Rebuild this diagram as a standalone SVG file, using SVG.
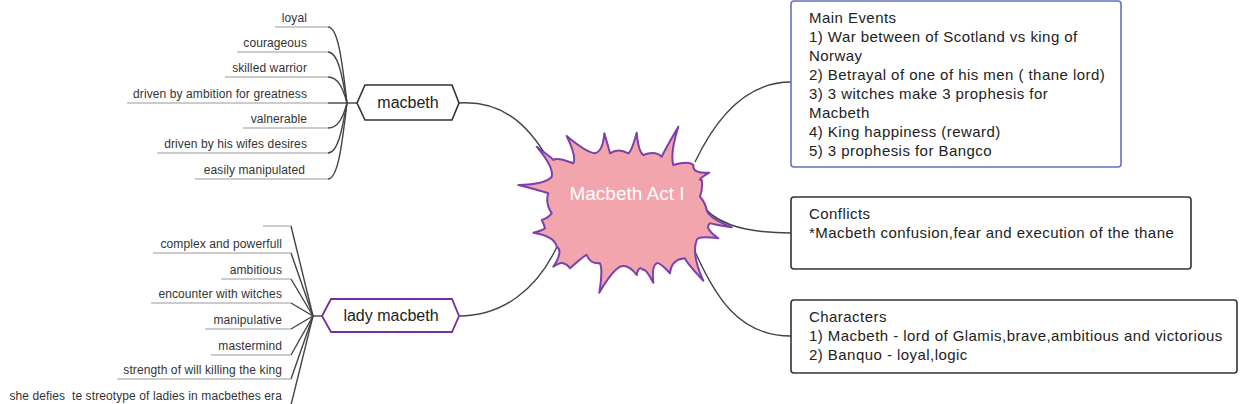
<svg xmlns="http://www.w3.org/2000/svg" width="1240" height="404" viewBox="0 0 1240 404">
<style>
.leaf{font-family:"Liberation Sans",Arial,sans-serif;font-size:12px;letter-spacing:0.1px;fill:#333;text-anchor:end;white-space:pre}
.ln{fill:none;stroke:#444;stroke-width:1.4}
.ul{fill:none;stroke:#999;stroke-width:1.2}
.lbl{font-family:"Liberation Sans",Arial,sans-serif;font-size:16px;fill:#222;text-anchor:middle}
.box{fill:#fff;stroke-width:1.6}
.bt{font-family:"Liberation Sans",Arial,sans-serif;font-size:15px;letter-spacing:0.45px;fill:#222}
</style>
<rect width="1240" height="404" fill="#fff"/>
<g id="connectors">
<path class="ln" d="M459,103 C505,100 532,128 553,168"/>
<path class="ln" d="M459,316 C500,316 538,292 560,240"/>
<path class="ln" d="M695,162 C715,120 745,82 791,82"/>
<path class="ln" d="M698,200 C712,222 740,233 791,233"/>
<path class="ln" d="M690,240 C715,300 740,336 791,336"/>
<path class="ln" d="M357,103 L347,103"/>
<path class="ln" d="M347,103 C342,60 338,27 328,27"/>
<path class="ln" d="M347,103 C342,75 338,52 328,52"/>
<path class="ln" d="M347,103 C343,88 338,77 328,77"/>
<path class="ln" d="M347,103 L328,103"/>
<path class="ln" d="M347,103 C343,118 338,128 328,128"/>
<path class="ln" d="M347,103 C342,130 338,153 328,153"/>
<path class="ln" d="M347,103 C342,145 338,179 328,179"/>
<path class="ln" d="M322,316 L313,316"/>
<path class="ln" d="M313,316 L291,226"/>
<path class="ln" d="M313,316 L291,253"/>
<path class="ln" d="M313,316 L291,279"/>
<path class="ln" d="M313,316 L291,303"/>
<path class="ln" d="M313,316 L291,329"/>
<path class="ln" d="M313,316 L291,355"/>
<path class="ln" d="M313,316 L291,379"/>
<path class="ln" d="M313,316 L291,405"/>
</g>
<g id="macbeth-leaves">
<path class="ul" d="M328,27 H275 M328,52 H237 M328,77 H225 M328,103 H127 M328,128 H243 M328,153 H157 M328,179 H195"/>
<text class="leaf" x="307" y="22">loyal</text>
<text class="leaf" x="307" y="47">courageous</text>
<text class="leaf" x="307" y="72">skilled warrior</text>
<text class="leaf" x="307" y="98">driven by ambition for greatness</text>
<text class="leaf" x="307" y="123">valnerable</text>
<text class="leaf" x="307" y="148">driven by his wifes desires</text>
<text class="leaf" x="305" y="174">easily manipulated</text>
</g>
<g id="lady-leaves">
<path class="ul" d="M291,226 H263 M291,253 H153 M291,279 H221 M291,303 H151 M291,329 H205 M291,355 H211 M291,379 H117"/>
<text class="leaf" x="282" y="248">complex and powerfull</text>
<text class="leaf" x="282" y="274">ambitious</text>
<text class="leaf" x="282" y="298">encounter with witches</text>
<text class="leaf" x="282" y="324">manipulative</text>
<text class="leaf" x="282" y="350">mastermind</text>
<text class="leaf" x="282" y="374">strength of will killing the king</text>
<text class="leaf" x="282" y="400">she defies  te streotype of ladies in macbethes era</text>
</g>
<g id="macbeth">
<polygon points="357,103 365,85 452,85 459,103 452,120 365,120" fill="#fff" stroke="#333" stroke-width="1.6"/>
<text class="lbl" x="408" y="108">macbeth</text>
</g>
<g id="lady-macbeth">
<polygon points="322,316 331,299 452,299 459,316 452,332 331,332" fill="#fff" stroke="#7030a0" stroke-width="1.8"/>
<text class="lbl" x="391" y="321">lady macbeth</text>
</g>
<g id="center">
<path fill="#f2a5ac" stroke="#7b3fb0" stroke-width="2" stroke-linejoin="round" d="M518.3,185 Q546,184.4 551.7,176.7 Q554.1,167.5 536.7,146.7 Q554.8,160.2 553.3,160 Q556.9,156.9 573.3,163.3 Q576.8,156.9 566.7,136 Q586.4,152.5 595,153.3 Q603,151.3 604.3,133.3 Q609.6,151.3 610,153.3 Q618.4,147.6 628.3,153.3 Q631.8,151 636.7,132.7 Q638.4,151.8 643.3,155 Q655.1,150.5 661.7,156.7 Q664.8,149.9 678.3,126.7 Q669.9,153.6 673.3,165 Q688.9,160.5 693.3,165 Q692.4,173.8 709.3,172.7 Q696.1,180.4 701.7,180 Q703,188 700,196.7 Q705,202 706.7,210 Q708.2,217.7 731.7,227.3 Q709.6,223.5 710,223.3 Q703.7,228.3 718.3,238.3 Q697.8,235.7 696.7,240 Q691.2,254.4 703.3,280.7 Q686.1,262.4 685,258.3 Q671.4,259.1 670,273.3 Q659,261.3 656.7,263.3 Q651.6,265.4 653.3,282.7 Q645.7,268.4 643.3,270 Q638.4,265 636.7,275 Q628.2,263.6 620,266.7 Q611.8,271.3 599.3,292.7 Q603,269.8 600,263.3 Q590,264.1 586.7,255 Q584.2,255.5 570,268.3 Q567,264 563.3,263.3 Q560,262 553.3,266.7 Q563.6,251.1 556.7,246.7 Q554.8,236.1 533.3,232.7 Q541,231 545,228.3 Q544,224 541.7,220 Q548,218 551.7,213.3 Q545,203 548.3,193.3 Q544.5,191.7 518.3,185 Z"/>
<text x="627" y="200" font-family="Liberation Sans, Arial, sans-serif" font-size="19" fill="#fff" text-anchor="middle">Macbeth Act I</text>
</g>
<g id="main-events">
<rect class="box" x="791" y="1" width="330" height="166" rx="3" stroke="#6670c0"/>
<text class="bt"><tspan x="809" y="23">Main Events</tspan><tspan x="809" y="42">1) War between of Scotland vs king of</tspan><tspan x="809" y="61">Norway</tspan><tspan x="809" y="80">2) Betrayal of one of his men ( thane lord)</tspan><tspan x="809" y="99">3) 3 witches make 3 prophesis for</tspan><tspan x="809" y="118">Macbeth</tspan><tspan x="809" y="137">4) King happiness (reward)</tspan><tspan x="809" y="156">5) 3 prophesis for Bangco</tspan></text>
</g>
<g id="conflicts">
<rect class="box" x="791" y="197" width="400" height="72" rx="3" stroke="#333"/>
<text class="bt"><tspan x="809" y="219">Conflicts</tspan><tspan x="809" y="238">*Macbeth confusion,fear and execution of the thane</tspan></text>
</g>
<g id="characters">
<rect class="box" x="791" y="300" width="446" height="73" rx="3" stroke="#333"/>
<text class="bt"><tspan x="809" y="322">Characters</tspan><tspan x="809" y="341">1) Macbeth - lord of Glamis,brave,ambitious and victorious</tspan><tspan x="809" y="360">2) Banquo - loyal,logic</tspan></text>
</g>
</svg>
